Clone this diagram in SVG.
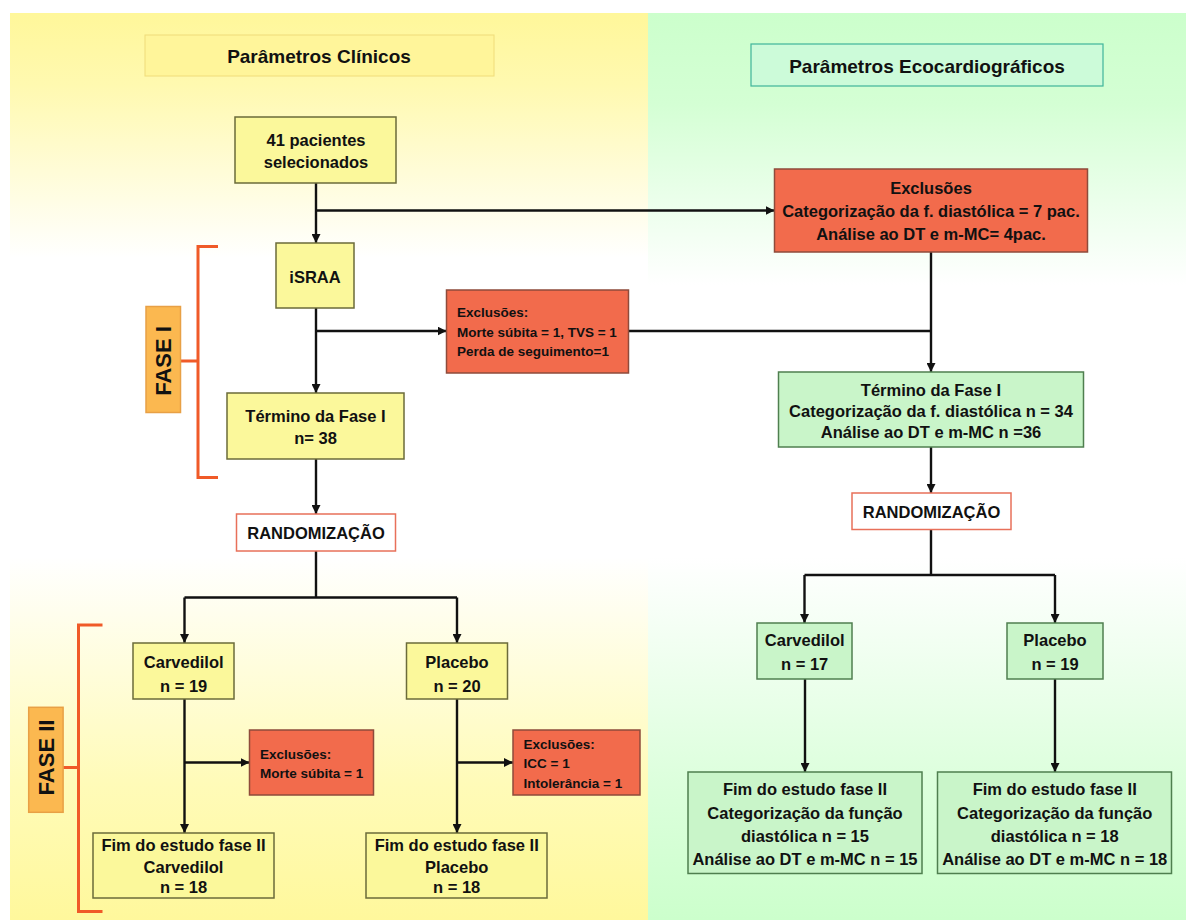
<svg xmlns="http://www.w3.org/2000/svg" width="1186" height="920" viewBox="0 0 1186 920">
<defs>
<linearGradient id="gy" x1="0" y1="0" x2="0" y2="1">
<stop offset="0" stop-color="#fff79a"/>
<stop offset="0.08" stop-color="#fff9b0"/>
<stop offset="0.27" stop-color="#ffffff"/>
<stop offset="0.6" stop-color="#ffffff"/>
<stop offset="0.85" stop-color="#fffbb8"/>
<stop offset="1" stop-color="#fff89c"/>
</linearGradient>
<linearGradient id="gg" x1="0" y1="0" x2="0" y2="1">
<stop offset="0" stop-color="#ccffcc"/>
<stop offset="0.1" stop-color="#d4ffd4"/>
<stop offset="0.3" stop-color="#ffffff"/>
<stop offset="0.6" stop-color="#ffffff"/>
<stop offset="0.85" stop-color="#dcffdc"/>
<stop offset="1" stop-color="#ccffcc"/>
</linearGradient>
<marker id="arr" viewBox="0 0 10 10" refX="10" refY="5" markerWidth="9" markerHeight="9" markerUnits="userSpaceOnUse" orient="auto">
<path d="M0,0 L10,5 L0,10 z" fill="#111"/>
</marker>
</defs>
<style>
text{font-family:"Liberation Sans",Arial,sans-serif;font-weight:bold;fill:#111}
.t{font-size:16.5px;text-anchor:middle}
.s{font-size:13.5px}
.h{font-size:19px;text-anchor:middle}
.f{font-size:22px;text-anchor:middle}
.y{fill:#fbf89b;stroke:#6b6b3a;stroke-width:1.5}
.g{fill:#c9f5c9;stroke:#4f7f4f;stroke-width:1.5}
.o{fill:#f26b4c;stroke:#8e4b3b;stroke-width:1.5}
.w{fill:#ffffff;stroke:#e8705a;stroke-width:1.5}
.c{fill:none;stroke:#111;stroke-width:2.4}
.a{marker-end:url(#arr)}
.b{fill:none;stroke:#f05a28;stroke-width:3}
.fl{fill:#fbb850;stroke:#e8a045;stroke-width:1.5}
</style>

<rect x="10" y="13" width="638" height="907" fill="url(#gy)"/>
<rect x="648" y="13" width="538" height="907" fill="url(#gg)"/>

<g id="title-clinicos">
<rect x="145" y="35" width="349" height="41" fill="#fff59a" stroke="#f0dc7a" stroke-width="1"/>
<text class="h" x="319" y="63">Parâmetros Clínicos</text>
</g>
<g id="title-eco">
<rect x="751" y="44" width="352" height="42" fill="#ccfbd9" stroke="#3fb59a" stroke-width="1.2"/>
<text class="h" x="927" y="72.5">Parâmetros Ecocardiográficos</text>
</g>

<g id="connectors">
<line class="c a" x1="316" y1="183" x2="316" y2="243"/>
<line class="c a" x1="316" y1="210.5" x2="774.5" y2="210.5"/>
<line class="c a" x1="931" y1="252" x2="931" y2="372"/>
<line class="c a" x1="316" y1="308" x2="316" y2="393"/>
<line class="c a" x1="316" y1="331" x2="446.5" y2="331"/>
<line class="c" x1="629" y1="331" x2="931" y2="331"/>
<line class="c a" x1="316" y1="459" x2="316" y2="514"/>
<path class="c" d="M316,551 V597.5 M184.5,597.5 H457"/>
<line class="c a" x1="184.5" y1="597.5" x2="184.5" y2="643"/>
<line class="c a" x1="457" y1="597.5" x2="457" y2="643"/>
<line class="c a" x1="184.5" y1="699" x2="184.5" y2="833"/>
<line class="c a" x1="184.5" y1="762.5" x2="249.5" y2="762.5"/>
<line class="c a" x1="457" y1="699" x2="457" y2="833"/>
<line class="c a" x1="457" y1="762.5" x2="513" y2="762.5"/>
<line class="c a" x1="931" y1="447" x2="931" y2="493"/>
<path class="c" d="M931,529.5 V575 M804.5,575 H1055"/>
<line class="c a" x1="804.5" y1="575" x2="804.5" y2="623"/>
<line class="c a" x1="1055" y1="575" x2="1055" y2="623"/>
<line class="c a" x1="805" y1="679" x2="805" y2="772"/>
<line class="c a" x1="1055" y1="679" x2="1055" y2="772"/>
</g>

<g id="fase1">
<path class="b" d="M218,246.5 H198 V477.5 H218 M180,361 H198"/>
<rect class="fl" x="146" y="306.5" width="34.5" height="106"/>
<text class="f" transform="translate(163.4,361) rotate(-90)" x="0" y="7.8">FASE I</text>
</g>
<g id="fase2">
<path class="b" d="M102.5,625 H78.5 V911.5 H102.5 M63,767.5 H78.5"/>
<rect class="fl" x="28.7" y="707.3" width="34.4" height="105"/>
<text class="f" transform="translate(45.9,757.5) rotate(-90)" x="0" y="7.8">FASE II</text>
</g>

<g id="n41">
<rect class="y" x="235" y="117" width="161" height="66"/>
<text class="t" x="316" y="146">41 pacientes</text>
<text class="t" x="316" y="168">selecionados</text>
</g>
<g id="israa">
<rect class="y" x="276" y="243" width="78" height="65"/>
<text class="t" x="315" y="282.5">iSRAA</text>
</g>
<g id="termino1">
<rect class="y" x="227" y="393" width="177" height="66"/>
<text class="t" x="315.5" y="421.5">Término da Fase I</text>
<text class="t" x="315.5" y="444">n= 38</text>
</g>
<g id="rand1">
<rect class="w" x="236.5" y="514" width="159" height="37"/>
<text class="t" x="316" y="539">RANDOMIZAÇÃO</text>
</g>
<g id="carv1">
<rect class="y" x="133" y="643" width="101" height="56"/>
<text class="t" x="183.7" y="667.5">Carvedilol</text>
<text class="t" x="183.7" y="691.5">n = 19</text>
</g>
<g id="plac1">
<rect class="y" x="406.5" y="643" width="101" height="56"/>
<text class="t" x="457" y="667.5">Placebo</text>
<text class="t" x="457" y="691.5">n = 20</text>
</g>
<g id="fim1">
<rect class="y" x="93" y="833" width="181" height="65"/>
<text class="t" x="183.5" y="850.5">Fim do estudo fase II</text>
<text class="t" x="183.5" y="873">Carvedilol</text>
<text class="t" x="183.5" y="892.5">n = 18</text>
</g>
<g id="fim2">
<rect class="y" x="366" y="833" width="181" height="65"/>
<text class="t" x="456.7" y="850.5">Fim do estudo fase II</text>
<text class="t" x="456.7" y="873">Placebo</text>
<text class="t" x="456.7" y="892.5">n = 18</text>
</g>

<g id="exc-top">
<rect class="o" x="774.5" y="169" width="313" height="83"/>
<text class="t" x="931" y="194">Exclusões</text>
<text class="t" x="931" y="216.5">Categorização da f. diastólica = 7 pac.</text>
<text class="t" x="931" y="240">Análise ao DT e m-MC= 4pac.</text>
</g>
<g id="exc-mid">
<rect class="o" x="446.5" y="290" width="182" height="83"/>
<text class="s" x="457" y="316.5">Exclusões:</text>
<text class="s" x="457" y="336.5">Morte súbita = 1, TVS = 1</text>
<text class="s" x="457" y="356">Perda de seguimento=1</text>
</g>
<g id="exc-carv">
<rect class="o" x="249.5" y="730" width="124" height="65"/>
<text class="s" x="260" y="759">Exclusões:</text>
<text class="s" x="260" y="778">Morte súbita = 1</text>
</g>
<g id="exc-plac">
<rect class="o" x="513" y="730" width="127" height="65"/>
<text class="s" x="523.5" y="749">Exclusões:</text>
<text class="s" x="523.5" y="767.5">ICC = 1</text>
<text class="s" x="523.5" y="788">Intolerância = 1</text>
</g>

<g id="termino2">
<rect class="g" x="778.5" y="372" width="305" height="75"/>
<text class="t" x="931" y="396">Término da Fase I</text>
<text class="t" x="931" y="416.5">Categorização da f. diastólica n = 34</text>
<text class="t" x="931" y="437.5">Análise ao DT e m-MC n =36</text>
</g>
<g id="rand2">
<rect class="w" x="852" y="493" width="159" height="36.5"/>
<text class="t" x="931.5" y="518">RANDOMIZAÇÃO</text>
</g>
<g id="carv2">
<rect class="g" x="757" y="623" width="95" height="56"/>
<text class="t" x="804.7" y="645.5">Carvedilol</text>
<text class="t" x="804.7" y="670">n = 17</text>
</g>
<g id="plac2">
<rect class="g" x="1007" y="623" width="96" height="56"/>
<text class="t" x="1055" y="645.5">Placebo</text>
<text class="t" x="1055" y="670">n = 19</text>
</g>
<g id="fim3">
<rect class="g" x="688" y="772" width="234" height="101.5"/>
<text class="t" x="805" y="795">Fim do estudo fase II</text>
<text class="t" x="805" y="818.5">Categorização da função</text>
<text class="t" x="805" y="841.5">diastólica n = 15</text>
<text class="t" x="805" y="865">Análise ao DT e m-MC n = 15</text>
</g>
<g id="fim4">
<rect class="g" x="937.5" y="772" width="234" height="101.5"/>
<text class="t" x="1054.7" y="795">Fim do estudo fase II</text>
<text class="t" x="1054.7" y="818.5">Categorização da função</text>
<text class="t" x="1054.7" y="841.5">diastólica n = 18</text>
<text class="t" x="1054.7" y="865">Análise ao DT e m-MC n = 18</text>
</g>
</svg>
